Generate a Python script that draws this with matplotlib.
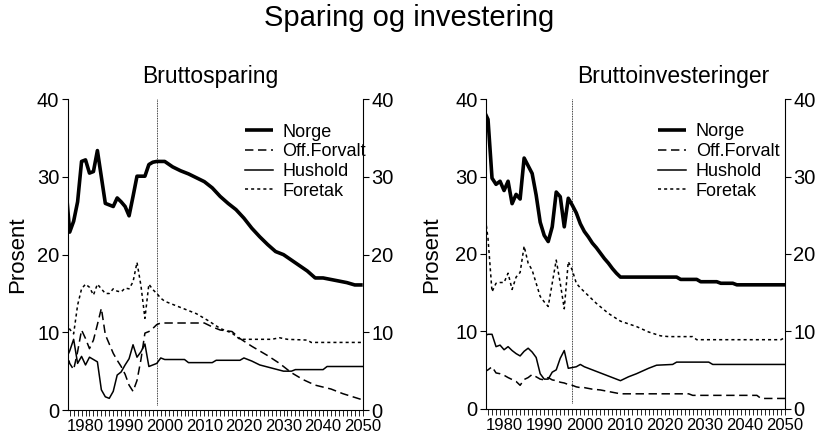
import matplotlib
matplotlib.use("Agg")
import matplotlib.pyplot as plt
from matplotlib.ticker import MultipleLocator

plt.rcParams['font.family'] = ['Liberation Sans', 'DejaVu Sans']

# ------------------------------------------------------------------
# data (prosent), historical years 1975-1999
# ------------------------------------------------------------------
hist_years = list(range(1975, 2000))
split_years = [1998, 1997]          # where the projections start (vertical line)

# Bruttosparing
spar_norge = [29.0, 22.9, 24.3, 26.8, 32.0, 32.2, 30.5, 30.7, 33.4, 30.0, 26.6, 26.4, 26.2,
              27.3, 26.8, 26.2, 25.0, 27.5, 30.1, 30.1, 30.1, 31.6, 31.9, 32.0, 32.0]
spar_norge_py = [2000, 2002, 2004, 2006, 2008, 2010, 2012, 2014, 2016, 2018, 2020, 2022, 2024,
                 2026, 2028, 2030, 2032, 2034, 2036, 2038, 2040, 2042, 2044, 2046, 2048, 2050]
spar_norge_pv = [32.0, 31.3, 30.8, 30.4, 29.9, 29.4, 28.6, 27.5, 26.6, 25.8, 24.7, 23.4, 22.3,
                 21.3, 20.4, 20.0, 19.3, 18.6, 17.9, 17.0, 17.0, 16.8, 16.6, 16.4, 16.1, 16.1]

spar_off = [8.0, 6.0, 5.2, 7.5, 10.3, 9.2, 7.9, 9.0, 11.0, 13.1, 9.7, 8.5, 7.3,
            6.4, 5.6, 4.6, 3.2, 2.4, 3.8, 6.5, 9.9, 10.1, 10.5, 11.0, 11.2]
spar_off_py = [2000, 2010, 2012, 2014, 2017, 2019, 2022, 2026, 2029, 2032, 2035, 2038, 2042, 2045, 2050]
spar_off_pv = [11.2, 11.2, 10.7, 10.3, 10.1, 9.2, 8.2, 7.0, 6.0, 4.8, 3.9, 3.2, 2.7, 2.1, 1.3]

spar_hus = [6.5, 7.6, 9.1, 6.0, 6.9, 5.8, 6.8, 6.5, 6.2, 2.6, 1.7, 1.5, 2.4,
            4.5, 4.9, 5.8, 6.6, 8.4, 6.8, 7.5, 8.5, 5.6, 5.8, 6.0, 6.7]
spar_hus_py = [2000, 2005, 2006, 2012, 2013, 2019, 2020, 2022, 2024, 2027, 2030, 2032, 2033, 2040, 2041, 2050]
spar_hus_pv = [6.5, 6.5, 6.1, 6.1, 6.4, 6.4, 6.7, 6.3, 5.8, 5.4, 5.0, 5.0, 5.2, 5.2, 5.6, 5.6]

spar_for = [12.0, 10.4, 9.8, 13.5, 15.6, 16.2, 15.8, 14.8, 16.2, 15.6, 15.0, 15.0, 15.6,
            15.3, 15.2, 15.7, 15.6, 16.5, 19.0, 16.0, 11.8, 16.2, 15.5, 15.0, 14.4]
spar_for_py = [2000, 2002, 2005, 2008, 2011, 2014, 2017, 2019, 2027, 2029, 2031, 2036, 2037, 2050]
spar_for_pv = [14.0, 13.6, 13.0, 12.4, 11.5, 10.5, 9.9, 9.1, 9.1, 9.3, 9.1, 9.0, 8.7, 8.7]

# Bruttoinvesteringer
inv_norge = [38.5, 37.4, 29.8, 29.0, 29.4, 28.2, 29.4, 26.5, 27.7, 27.1, 32.4, 31.4, 30.4,
             27.6, 24.1, 22.4, 21.6, 23.5, 28.0, 27.4, 23.5, 27.2, 26.3, 25.3, 23.9]
inv_norge_py = [2000, 2001, 2002, 2003, 2004, 2005, 2006, 2007, 2008, 2009,
                2023, 2024, 2028, 2029, 2033, 2034, 2037, 2038, 2050]
inv_norge_pv = [22.9, 22.2, 21.4, 20.8, 20.1, 19.4, 18.8, 18.1, 17.5, 17.0,
                17.0, 16.7, 16.7, 16.4, 16.4, 16.2, 16.2, 16.0, 16.0]

inv_off = [4.7, 5.0, 5.4, 4.6, 4.5, 4.3, 4.0, 3.75, 3.5, 3.0, 3.75, 4.0, 4.4,
           4.1, 3.8, 3.7, 4.0, 3.7, 3.6, 3.4, 3.3, 3.1, 3.0, 2.8, 2.7]
inv_off_py = [2000, 2002, 2004, 2006, 2009, 2026, 2027, 2043, 2044, 2050]
inv_off_pv = [2.7, 2.5, 2.4, 2.2, 1.9, 1.9, 1.7, 1.7, 1.3, 1.3]

inv_hus = [9.4, 9.6, 9.6, 8.0, 8.2, 7.6, 8.0, 7.5, 7.1, 6.8, 7.4, 7.8, 7.3,
           6.6, 4.5, 3.8, 3.8, 4.7, 5.0, 6.5, 7.5, 5.2, 5.3, 5.4, 5.7]
inv_hus_py = [2000, 2002, 2004, 2006, 2009, 2011, 2013, 2016, 2018, 2022, 2023, 2031, 2032, 2050]
inv_hus_pv = [5.4, 5.0, 4.6, 4.2, 3.6, 4.1, 4.5, 5.2, 5.6, 5.7, 6.0, 6.0, 5.7, 5.7]

inv_for = [26.0, 22.0, 15.1, 16.2, 16.3, 16.3, 17.5, 15.4, 17.0, 17.6, 21.0, 18.8, 17.9,
           16.2, 14.5, 13.8, 13.2, 16.2, 19.2, 16.2, 12.9, 19.0, 17.9, 16.2, 15.6]
inv_for_py = [2000, 2003, 2006, 2009, 2013, 2016, 2019, 2021, 2027, 2028, 2049, 2050]
inv_for_pv = [15.1, 13.6, 12.3, 11.3, 10.6, 9.9, 9.4, 9.3, 9.3, 8.9, 8.9, 9.2]

labels = ['Norge', 'Off.Forvalt', 'Hushold', 'Foretak']
titles = ['Bruttosparing', 'Bruttoinvesteringer']

styles = [dict(color='black', lw=2.6, solid_capstyle='butt'),
          dict(color='black', lw=1.1, dashes=(5.5, 3)),
          dict(color='black', lw=1.1),
          dict(color='black', lw=1.1, dashes=(2, 2))]

panels = [
    [(spar_norge, spar_norge_py, spar_norge_pv), (spar_off, spar_off_py, spar_off_pv),
     (spar_hus, spar_hus_py, spar_hus_pv), (spar_for, spar_for_py, spar_for_pv)],
    [(inv_norge, inv_norge_py, inv_norge_pv), (inv_off, inv_off_py, inv_off_pv),
     (inv_hus, inv_hus_py, inv_hus_pv), (inv_for, inv_for_py, inv_for_pv)],
]

#--------------------------------------------------------------------
W, H = 818, 440
fig = plt.figure(figsize=(W / 100, H / 100), dpi=100)

ax_boxes = [(67.7, 99.3, 362.7, 410.0), (486.0, 99.3, 785.0, 408.5)]  # pixel boxes
title_x = [210, 673]
ylabel_x = [17.5, 432]
legend_x = [0.60, 0.575]

for i in range(2):
    x0, y0, x1, y1 = ax_boxes[i]
    ax = fig.add_axes([x0 / W, 1 - y1 / H, (x1 - x0) / W, (y1 - y0) / H])

    for (hv, py, pv), lab, st in zip(panels[i], labels, styles):
        ax.plot(hist_years + py, hv + pv, label=lab, **st)

    ax.axvline(split_years[i], ymin=0.017, ymax=1, color='black', lw=0.6, ls=(0, (1, 1)))

    ax.set_xlim(1975.5, 2050)
    ax.set_ylim(0, 40)
    ax.set_yticks([0, 10, 20, 30, 40])
    ax.set_xticks(range(1980, 2051, 10))
    ax.xaxis.set_minor_locator(MultipleLocator(1))

    ax.spines['top'].set_visible(False)
    for s in ['left', 'right', 'bottom']:
        ax.spines[s].set_linewidth(0.8)

    ax.tick_params(axis='y', which='both', left=True, right=True, labelleft=True,
                   labelright=True, direction='out', length=4, width=0.8,
                   labelsize=14.5, pad=2)
    ax.tick_params(axis='x', which='both', direction='out', length=4.5, width=0.6, pad=2)
    for lbl in ax.get_xticklabels():
        lbl.set_family(['Liberation Sans Narrow', 'Liberation Sans'])
        lbl.set_fontsize(12)

    ax.legend(loc='upper left', bbox_to_anchor=(legend_x[i], 0.922), frameon=False,
              fontsize=13, handlelength=1.55, handletextpad=0.55, labelspacing=0.15,
              borderpad=0, borderaxespad=0)

    fig.text(title_x[i] / W, 1 - 76 / H, titles[i], fontsize=16.5, ha='center', va='center')
    fig.text(ylabel_x[i] / W, 1 - 255 / H, 'Prosent', fontsize=16, rotation=90,
             ha='center', va='center')

fig.text(0.5, 1 - 18 / H, 'Sparing og investering', fontsize=21, ha='center', va='center')

fig.savefig('out.png', dpi=100)
